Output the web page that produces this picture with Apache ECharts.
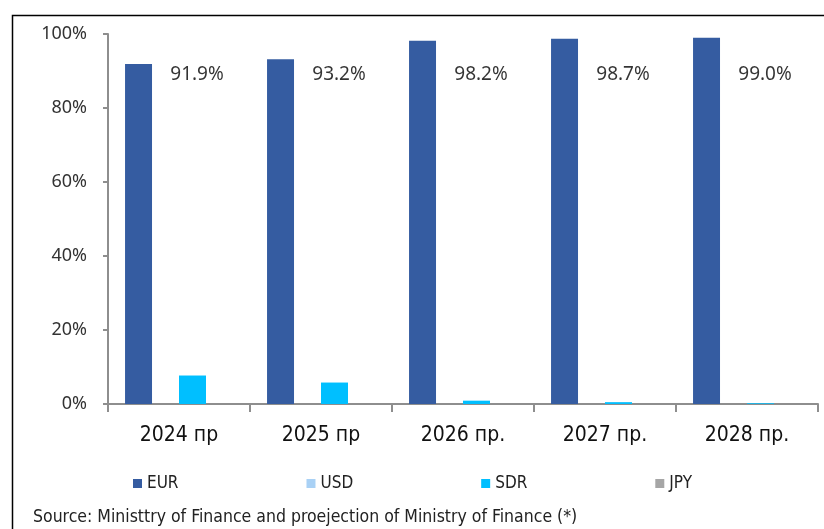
<!DOCTYPE html>
<html>
<head>
<meta charset="utf-8">
<script src="https://cdn.jsdelivr.net/npm/echarts@6/dist/echarts.min.js"></script>
<style>
  html, body { margin: 0; padding: 0; background: #fff; }
  #chart { width: 824px; height: 529px; }
</style>
</head>
<body>
<div id="chart"></div>
<script>
// categories and shares (%)
const years = ["2024 пр", "2025 пр", "2026 пр.", "2027 пр.", "2028 пр."];
const eur = [91.9, 93.2, 98.2, 98.7, 99.0];
const usd = [0, 0, 0, 0, 0];
const sdr = [7.7, 5.8, 0.9, 0.5, 0.2];
const jpy = [0, 0, 0, 0, 0];
const yTicks = [0, 20, 40, 60, 80, 100];

// EUR value labels sit at a fixed height beside the bars
const labelLevel = 89;

const narrow = "'Liberation Sans Narrow', 'DejaVu Sans Condensed', 'Arial Narrow', sans-serif";
const plain = "'Noto Sans', 'Open Sans', sans-serif";

const myChart = echarts.init(document.getElementById("chart"));

const barSeries = (name, data, color) => ({
  name: name,
  type: "bar",
  data: data,
  barGap: "0%",
  barCategoryGap: "24%",
  itemStyle: { color: color },
});

let option = {
  animation: false,
  graphic: [
    {
      // outer chart frame, runs off the right and bottom edges
      type: "rect",
      left: 10,
      top: 13,
      shape: { width: 840, height: 540 },
      style: { fill: "none", stroke: "#000", lineWidth: 1.5 },
      silent: true,
    },
    {
      type: "text",
      left: 33,
      top: 508,
      style: {
        text: "Source: Ministtry of Finance and proejection of Ministry of Finance (*)",
        font: "17.5px " + narrow,
        fill: "#222",
      },
    },
  ],
  grid: {
    left: 108,
    right: 6,
    top: 34,
    bottom: 125,
    containLabel: false,
  },
  legend: {
    left: 128,
    top: 470,
    itemWidth: 9,
    itemHeight: 9,
    itemGap: 128,
    icon: "rect",
    textStyle: { fontFamily: narrow, fontSize: 17, color: "#222" },
    data: ["EUR", "USD", "SDR", "JPY"],
  },
  xAxis: {
    type: "category",
    data: years,
    boundaryGap: true,
    axisLine: { lineStyle: { color: "#8e8e8e", width: 2 } },
    axisTick: { show: true, length: 8, lineStyle: { color: "#8e8e8e", width: 2 } },
    axisLabel: {
      margin: 21,
      fontFamily: narrow,
      fontSize: 21,
      color: "#111",
    },
  },
  yAxis: {
    type: "value",
    min: yTicks[0],
    max: yTicks[yTicks.length - 1],
    interval: yTicks[1] - yTicks[0],
    splitLine: { show: false },
    axisLine: { show: true, lineStyle: { color: "#8e8e8e", width: 2 } },
    axisTick: { show: true, length: 5, lineStyle: { color: "#8e8e8e", width: 2 } },
    axisLabel: {
      margin: 21,
      fontFamily: plain,
      fontSize: 18,
      color: "#333",
      formatter: (v) => v + "%",
    },
  },
  series: [
    barSeries("EUR", eur, "#355ca1"),
    barSeries("USD", usd, "#a9d1f5"),
    barSeries("SDR", sdr, "#00bfff"),
    barSeries("JPY", jpy, "#a6a6a6"),
    {
      name: "eurLabels",
      type: "scatter",
      symbolSize: 0,
      silent: true,
      data: eur.map(() => labelLevel),
      label: {
        show: true,
        position: "inside",
        offset: [18, 0],
        fontFamily: plain,
        fontSize: 19,
        color: "#000",
        formatter: (p) => eur[p.dataIndex].toFixed(1) + "%",
      },
      z: 5,
    },
  ],
};
myChart.setOption(option);
</script>
</body>
</html>
